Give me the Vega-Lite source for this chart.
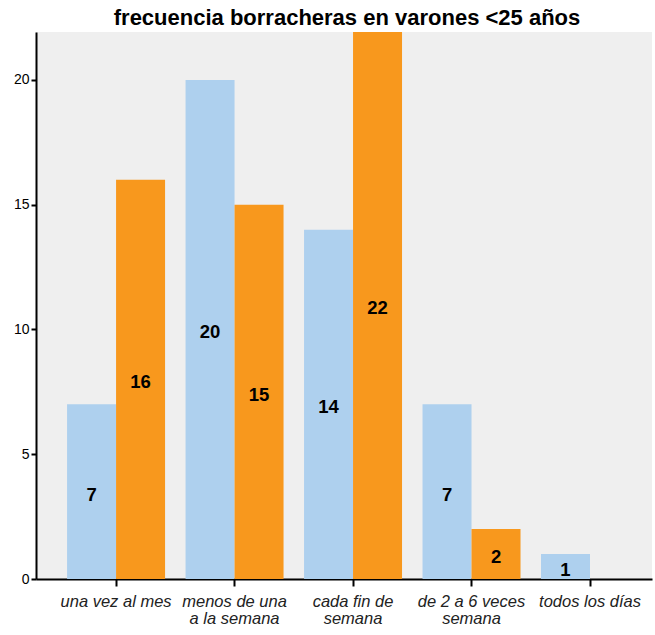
{
  "$schema": "https://vega.github.io/schema/vega-lite/v6.json",
  "width": 616,
  "height": 547,
  "autosize": {"type": "none"},
  "padding": {"left": 36, "top": 32, "right": 3, "bottom": 56},
  "background": "white",
  "title": {
    "text": "frecuencia borracheras en varones <25 años",
    "font": "Liberation Sans",
    "fontSize": 22,
    "fontWeight": "bold",
    "color": "black",
    "anchor": "middle",
    "offset": 2,
    "dx": 3
  },
  "config": {
    "view": {"fill": "#efefef", "stroke": null},
    "axis": {"domainColor": "black", "tickColor": "black", "domainWidth": 2, "tickWidth": 2, "grid": false}
  },
  "data": {
    "values": [
      {"cat": "una vez al mes", "serie": "a", "valor": 7},
      {"cat": "una vez al mes", "serie": "b", "valor": 16},
      {"cat": "menos de una|a la semana", "serie": "a", "valor": 20},
      {"cat": "menos de una|a la semana", "serie": "b", "valor": 15},
      {"cat": "cada fin de|semana", "serie": "a", "valor": 14},
      {"cat": "cada fin de|semana", "serie": "b", "valor": 22},
      {"cat": "de 2 a 6 veces|semana", "serie": "a", "valor": 7},
      {"cat": "de 2 a 6 veces|semana", "serie": "b", "valor": 2},
      {"cat": "todos los días", "serie": "a", "valor": 1},
      {"cat": "todos los días", "serie": "b", "valor": 0}
    ]
  },
  "encoding": {
    "x": {
      "field": "cat",
      "type": "nominal",
      "sort": null,
      "scale": {"paddingInner": 0.173, "paddingOuter": 0.186, "align": 0.705},
      "axis": {
        "title": null,
        "labelAngle": 0,
        "labelExpr": "split(datum.label, '|')",
        "labelFont": "Liberation Sans",
        "labelFontSize": 16.5,
        "labelFontStyle": "italic",
        "labelColor": "#222222",
        "labelLineHeight": 17,
        "labelPadding": 7,
        "tickSize": 7
      }
    },
    "xOffset": {"field": "serie", "type": "nominal", "scale": {"paddingInner": 0, "paddingOuter": 0}}
  },
  "layer": [
    {
      "mark": {"type": "bar", "clip": true},
      "encoding": {
        "y": {
          "field": "valor",
          "type": "quantitative",
          "scale": {"domain": [0, 21.92], "nice": false},
          "axis": {
            "title": null,
            "values": [0, 5, 10, 15, 20],
            "labelFont": "Liberation Sans",
            "labelFontSize": 14,
            "labelColor": "black",
            "tickSize": 5,
            "labelPadding": 2
          }
        },
        "color": {
          "field": "serie",
          "type": "nominal",
          "scale": {"domain": ["a", "b"], "range": ["#aed0ee", "#f8981d"]},
          "legend": null
        }
      }
    },
    {
      "transform": [{"filter": "datum.valor > 0"}, {"calculate": "datum.valor / 2", "as": "mid"}],
      "mark": {"type": "text", "font": "Liberation Sans", "fontSize": 18.5, "fontWeight": "bold", "color": "black", "baseline": "middle", "dy": 3},
      "encoding": {
        "y": {"field": "mid", "type": "quantitative", "scale": {"domain": [0, 21.92], "nice": false}},
        "text": {"field": "valor", "type": "quantitative"}
      }
    }
  ]
}
